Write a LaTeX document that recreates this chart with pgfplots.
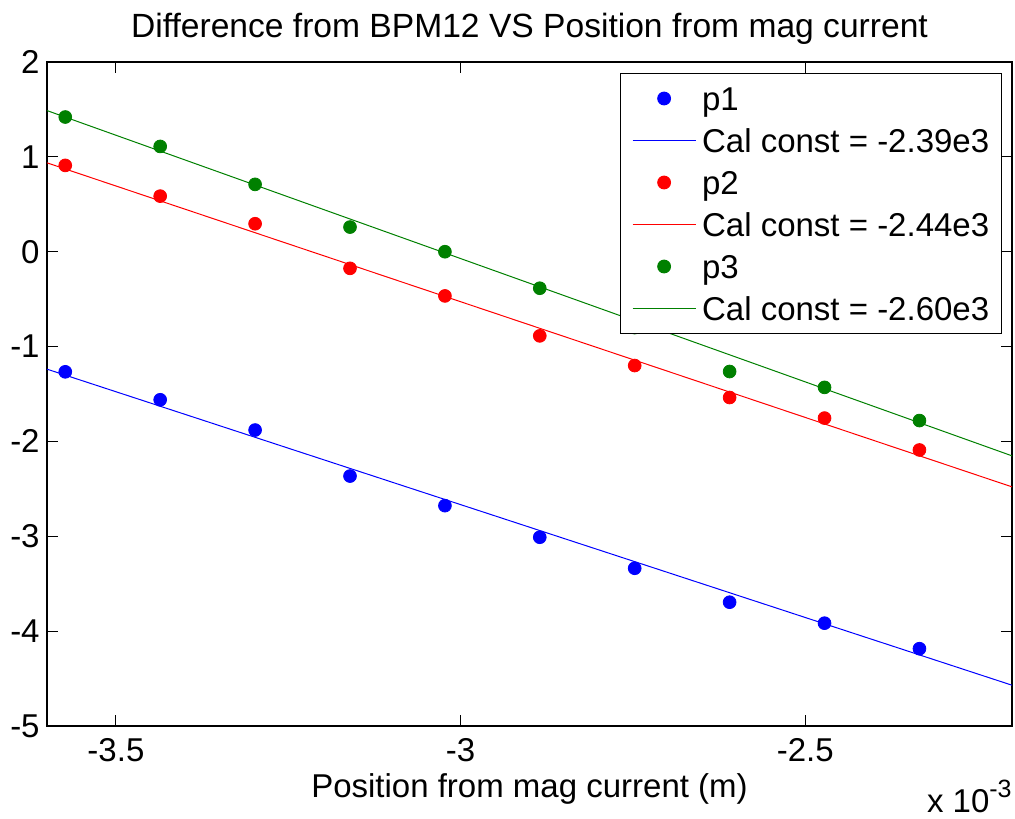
\documentclass[border=0pt]{standalone}
\usepackage{fontspec}
\setmainfont{Liberation Sans}
\usepackage{pgfplots}
\pgfplotsset{compat=1.18}
\definecolor{mgreen}{rgb}{0,0.5,0}
\pgfplotsset{
  lineleg/.style={legend image code/.code={\draw[##1] (0pt,0pt) -- (31.5pt,0pt);}},
  markleg/.style={legend image code/.code={\path (0pt,0pt) (31.5pt,0pt); \draw[##1] plot coordinates {(15.75pt,0pt)};}},
}
\begin{document}
\begin{tikzpicture}[font=\fontsize{16.5}{19.8}\selectfont]
\begin{axis}[
  name=ax,
  at={(0,0)}, anchor=south west,
  scale only axis, width=482.5pt, height=332pt,
  xmin=-3.6, xmax=-2.2, ymin=-5, ymax=2,
  xtick={-3.5,-3,-2.5}, xticklabels={-3.5,-3,-2.5},
  ytick={-5,-4,-3,-2,-1,0,1,2}, yticklabels={-5,-4,-3,-2,-1,0,1,2},
  tick align=inside, major tick length=5.5pt,
  every tick/.style={black, line width=0.5pt},
  axis line style={black, line width=0.75pt},
  xticklabel style={anchor=base, inner sep=0pt, yshift=-17.5pt},
  yticklabel style={anchor=east, inner sep=0pt, xshift=-3.5pt},
  xlabel={Position from mag current (m)},
  xlabel style={at={(axis description cs:0.5,0)}, anchor=base, inner sep=0pt, yshift=-35.5pt},
  legend cell align=left,
  legend style={at={(rel axis cs:1,1)}, anchor=north east, xshift=-5.15pt, yshift=-5.5pt,
    draw=black, line width=0.5pt, inner xsep=6pt, inner ysep=2pt, column sep=3pt, row sep=0pt,
    font=\fontsize{16.5}{19.8}\selectfont,
    nodes={inner sep=0pt, text height=16.4pt, text depth=4.6pt}},
]
\addplot[only marks, mark=*, mark size=3.2pt, color=blue, markleg]
  coordinates {(-3.5735,-1.266) (-3.4358,-1.561) (-3.2981,-1.880) (-3.1604,-2.365) (-3.0227,-2.677)
               (-2.8851,-3.010) (-2.7474,-3.337) (-2.6097,-3.695) (-2.4720,-3.916) (-2.3343,-4.185)};
\addlegendentry{p1}
\addplot[blue, line width=0.5pt, no marks, lineleg] coordinates {(-3.6,-1.238) (-2.2,-4.570)};
\addlegendentry{Cal const = -2.39e3}
\addplot[only marks, mark=*, mark size=3.2pt, color=red, markleg]
  coordinates {(-3.5735,0.910) (-3.4358,0.586) (-3.2981,0.295) (-3.1604,-0.175) (-3.0227,-0.466)
               (-2.8851,-0.887) (-2.7474,-1.200) (-2.6097,-1.537) (-2.4720,-1.754) (-2.3343,-2.090)};
\addlegendentry{p2}
\addplot[red, line width=0.5pt, no marks, lineleg] coordinates {(-3.6,0.937) (-2.2,-2.479)};
\addlegendentry{Cal const = -2.44e3}
\addplot[only marks, mark=*, mark size=3.2pt, color=mgreen, markleg]
  coordinates {(-3.5735,1.420) (-3.4358,1.110) (-3.2981,0.710) (-3.1604,0.260) (-3.0227,0.000)
               (-2.8851,-0.385) (-2.7474,-0.800) (-2.6097,-1.263) (-2.4720,-1.430) (-2.3343,-1.780)};
\addlegendentry{p3}
\addplot[mgreen, line width=0.5pt, no marks, lineleg] coordinates {(-3.6,1.488) (-2.2,-2.152)};
\addlegendentry{Cal const = -2.60e3}
\end{axis}
\node[anchor=base, inner sep=0pt, font=\fontsize{16.8}{20}\selectfont] at ([yshift=12.5pt]ax.north)
  {Difference from BPM12 VS Position from mag current};
\node[anchor=base east, inner sep=0pt] at ([yshift=-43pt]ax.south east)
  {x 10\raisebox{7.5pt}{\fontsize{12.5}{15}\selectfont -3}};
\pgfresetboundingbox
\path[use as bounding box] (-23.5pt,-46pt) rectangle (484pt,363pt);
\end{tikzpicture}
\end{document}
